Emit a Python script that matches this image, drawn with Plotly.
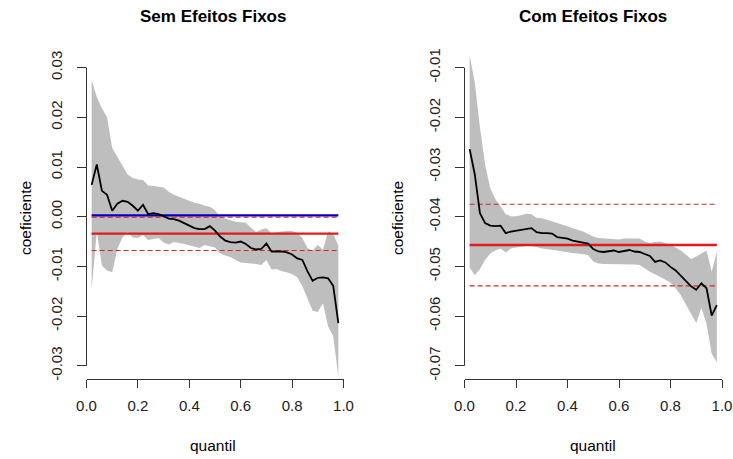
import plotly.graph_objects as go

W, H = 733, 459

# quantiles estimated
quantis = [round(0.02 * k, 2) for k in range(1, 50)]

# --- Sem Efeitos Fixos ---
sem_coef = [0.0064, 0.0105, 0.0052, 0.0044, 0.0012, 0.0026, 0.0032, 0.0030, 0.0022, 0.0012,
            0.0024, 0.0005, 0.0007, 0.0005, 0.0001, -0.0004, -0.0005, -0.0008, -0.0013, -0.0018,
            -0.0023, -0.0025, -0.0025, -0.0019, -0.0028, -0.0040, -0.0048, -0.0051, -0.0052, -0.0050,
            -0.0055, -0.0063, -0.0066, -0.0065, -0.0054, -0.0070, -0.0070, -0.0070, -0.0072, -0.0076,
            -0.0084, -0.0087, -0.0110, -0.0129, -0.0123, -0.0122, -0.0124, -0.0139, -0.0214]
sem_sup = [0.0275, 0.0241, 0.0218, 0.0200, 0.0138, 0.0120, 0.0102, 0.0085, 0.0078, 0.0075,
           0.0074, 0.0063, 0.0062, 0.0061, 0.0059, 0.0050, 0.0044, 0.0040, 0.0036, 0.0032,
           0.0028, 0.0026, 0.0022, 0.0020, 0.0013, 0.0000, -0.0004, -0.0007, -0.0010, -0.0011,
           -0.0012, -0.0022, -0.0031, -0.0026, -0.0023, -0.0033, -0.0031, -0.0030, -0.0029, -0.0029,
           -0.0033, -0.0043, -0.0063, -0.0068, -0.0057, -0.0066, -0.0030, -0.0035, -0.0058]
sem_inf = [-0.0147, -0.0030, -0.0098, -0.0108, -0.0112, -0.0065, -0.0042, -0.0031, -0.0042, -0.0043,
           -0.0037, -0.0047, -0.0045, -0.0043, -0.0052, -0.0056, -0.0051, -0.0053, -0.0055, -0.0058,
           -0.0060, -0.0063, -0.0057, -0.0059, -0.0062, -0.0074, -0.0078, -0.0081, -0.0087, -0.0092,
           -0.0093, -0.0094, -0.0095, -0.0097, -0.0087, -0.0106, -0.0105, -0.0110, -0.0112, -0.0116,
           -0.0122, -0.0140, -0.0165, -0.0189, -0.0192, -0.0174, -0.0221, -0.0240, -0.0322]
sem_ols = -0.0034
sem_ols_inf = -0.0068
sem_ols_sup = -0.0001
sem_zero = 0.00025

# --- Com Efeitos Fixos ---
com_coef = [-0.0264, -0.0315, -0.0393, -0.0413, -0.0418, -0.0419, -0.0418, -0.0433, -0.0430, -0.0428,
            -0.0426, -0.0424, -0.0423, -0.0431, -0.0433, -0.0433, -0.0434, -0.0441, -0.0442, -0.0444,
            -0.0448, -0.0450, -0.0452, -0.0454, -0.0465, -0.0470, -0.0471, -0.0470, -0.0468, -0.0471,
            -0.0469, -0.0467, -0.0470, -0.0471, -0.0475, -0.0479, -0.0491, -0.0488, -0.0492, -0.0501,
            -0.0508, -0.0518, -0.0530, -0.0540, -0.0547, -0.0534, -0.0544, -0.0599, -0.0578]
com_sup = [-0.0075, -0.0130, -0.0220, -0.0295, -0.0343, -0.0365, -0.0379, -0.0395, -0.0399, -0.0399,
           -0.0397, -0.0394, -0.0395, -0.0402, -0.0403, -0.0406, -0.0409, -0.0412, -0.0415, -0.0419,
           -0.0423, -0.0426, -0.0430, -0.0435, -0.0440, -0.0443, -0.0444, -0.0445, -0.0446, -0.0446,
           -0.0444, -0.0444, -0.0444, -0.0444, -0.0450, -0.0453, -0.0451, -0.0450, -0.0453, -0.0457,
           -0.0462, -0.0468, -0.0477, -0.0485, -0.0480, -0.0474, -0.0468, -0.0511, -0.0470]
com_inf = [-0.0502, -0.0518, -0.0505, -0.0487, -0.0474, -0.0468, -0.0464, -0.0472, -0.0464, -0.0462,
           -0.0460, -0.0459, -0.0459, -0.0461, -0.0464, -0.0465, -0.0467, -0.0468, -0.0470, -0.0472,
           -0.0473, -0.0474, -0.0475, -0.0477, -0.0490, -0.0494, -0.0495, -0.0495, -0.0495, -0.0495,
           -0.0495, -0.0496, -0.0496, -0.0497, -0.0504, -0.0511, -0.0516, -0.0521, -0.0527, -0.0533,
           -0.0544, -0.0558, -0.0576, -0.0595, -0.0614, -0.0583, -0.0616, -0.0675, -0.0693]
com_ols = -0.0457
com_ols_inf = -0.0539
com_ols_sup = -0.0375

# axis ticks
x_ticks = [0.0, 0.2, 0.4, 0.6, 0.8, 1.0]
x_ticktext = ["0.0", "0.2", "0.4", "0.6", "0.8", "1.0"]
sem_yticks = [-0.03, -0.02, -0.01, 0.00, 0.01, 0.02, 0.03]
sem_yticktext = ["-0.03", "-0.02", "-0.01", "0.00", "0.01", "0.02", "0.03"]
com_yticks = [-0.07, -0.06, -0.05, -0.04, -0.03, -0.02, -0.01]
com_yticktext = ["-0.07", "-0.06", "-0.05", "-0.04", "-0.03", "-0.02", "-0.01"]

FONT = "Liberation Sans, Arial, sans-serif"
GREY = "#BEBEBE"
RED = "#E31A1C"
DASHRED = "#CC2A2A"
AXC = "#333333"


def px_x(p):
    return p / W


def px_y(p):
    return 1 - p / H


fig = go.Figure()


def panel(xa, ya, coef, sup, inf, ols, ols_inf, ols_sup, zero=None):
    band_x = quantis + quantis[::-1]
    band_y = sup + inf[::-1]
    fig.add_trace(go.Scatter(x=band_x, y=band_y, fill="toself", fillcolor=GREY,
                             line=dict(width=0, color=GREY), mode="lines",
                             xaxis=xa, yaxis=ya, hoverinfo="skip", showlegend=False))
    ends = [quantis[0], quantis[-1]]
    if zero is not None:
        fig.add_trace(go.Scatter(x=ends, y=[zero, zero], mode="lines",
                                 line=dict(color="#0000CC", width=2.2),
                                 xaxis=xa, yaxis=ya, showlegend=False))
    fig.add_trace(go.Scatter(x=ends, y=[ols, ols], mode="lines",
                             line=dict(color=RED, width=2.4),
                             xaxis=xa, yaxis=ya, showlegend=False))
    for v in (ols_inf, ols_sup):
        fig.add_trace(go.Scatter(x=ends, y=[v, v], mode="lines",
                                 line=dict(color=DASHRED, width=1.2, dash="5px,3px"),
                                 xaxis=xa, yaxis=ya, showlegend=False))
    fig.add_trace(go.Scatter(x=quantis, y=coef, mode="lines",
                             line=dict(color="black", width=1.8),
                             xaxis=xa, yaxis=ya, showlegend=False))


panel("x", "y", sem_coef, sem_sup, sem_inf, sem_ols, sem_ols_inf, sem_ols_sup, sem_zero)
panel("x2", "y2", com_coef, com_sup, com_inf, com_ols, com_ols_inf, com_ols_sup)

bottom_px, top_px = 379.3, 50.0
ydom = [px_y(bottom_px), px_y(top_px)]
scale = 4970.0  # pixels per unit
zero_px = 216.7
sem_range = [(zero_px - bottom_px) / scale, (zero_px - top_px) / scale]
com_range = [-0.04 + sem_range[0], -0.04 + sem_range[1]]

xcommon = dict(range=[0, 1], tickvals=x_ticks, ticktext=x_ticktext, ticks="outside",
               ticklen=8, tickwidth=1, tickcolor=AXC, showline=True, linecolor=AXC,
               linewidth=1, showgrid=False, zeroline=False, automargin=False,
               ticklabelstandoff=5,
               tickfont=dict(family=FONT, size=15, color="#222222"))
ycommon = dict(ticks="outside", ticklen=9, tickwidth=1, tickcolor=AXC, showline=False,
               showgrid=False, zeroline=False, tickangle=-90, automargin=False,
               ticklabelstandoff=9,
               tickfont=dict(family=FONT, size=15, color="#222222"))

fig.update_layout(
    width=W, height=H, margin=dict(l=0, r=0, t=0, b=0, autoexpand=False),
    paper_bgcolor="white", plot_bgcolor="white", showlegend=False,
    xaxis=dict(domain=[px_x(86.5), px_x(343.5)], anchor="y", **xcommon),
    xaxis2=dict(domain=[px_x(464.5), px_x(722)], anchor="y2", **xcommon),
    yaxis=dict(domain=ydom, range=sem_range, anchor="x", tickvals=sem_yticks,
               ticktext=sem_yticktext, **ycommon),
    yaxis2=dict(domain=ydom, range=com_range, anchor="x2", tickvals=com_yticks,
                ticktext=com_yticktext, **ycommon),
)

# y axis lines spanning first to last tick
fig.add_shape(type="line", xref="x domain", yref="y", x0=0, x1=0,
              y0=sem_yticks[0], y1=sem_yticks[-1], line=dict(color=AXC, width=1))
fig.add_shape(type="line", xref="x2 domain", yref="y2", x0=0, x1=0,
              y0=com_yticks[0], y1=com_yticks[-1], line=dict(color=AXC, width=1))

ann = [
    dict(text="<b>Sem Efeitos Fixos</b>", x=px_x(213.3), y=px_y(16.7), size=17, angle=0),
    dict(text="<b>Com Efeitos Fixos</b>", x=px_x(593), y=px_y(16.7), size=17, angle=0),
    dict(text="quantil", x=px_x(213), y=px_y(445), size=15.5, angle=0),
    dict(text="quantil", x=px_x(593), y=px_y(445), size=15.5, angle=0),
    dict(text="coeficiente", x=px_x(26), y=px_y(218), size=15.5, angle=-90),
    dict(text="coeficiente", x=px_x(398), y=px_y(218), size=15.5, angle=-90),
]
for a in ann:
    fig.add_annotation(text=a["text"], x=a["x"], y=a["y"], xref="paper", yref="paper",
                       xanchor="center", yanchor="middle", showarrow=False,
                       textangle=a["angle"],
                       font=dict(family=FONT, size=a["size"], color="black"))

fig.write_html("out.html")
